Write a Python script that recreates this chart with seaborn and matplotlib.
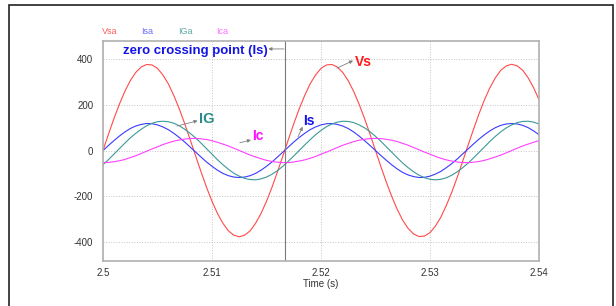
import numpy as np
import pandas as pd
import matplotlib
matplotlib.use("Agg")
import matplotlib.pyplot as plt
import matplotlib.patches as patches
import seaborn as sns

# time base, 0.5 ms steps
time = np.linspace(2.5, 2.54, 81)

# values
vsa = [0, 71, 139, 202, 258, 305, 341, 365, 376, 374, 359, 330, 291, 240, 182, 117, 47,
       -24, -94, -161, -222, -275, -318, -351, -370, -377, -370, -351, -318, -275, -222,
       -161, -94, -24, 47, 117, 182, 240, 291, 330, 359, 374, 376, 365, 341, 305, 258,
       202, 139, 71, 0, -71, -139, -202, -258, -305, -341, -365, -376, -374, -359, -330,
       -291, -240, -182, -117, -47, 24, 94, 161, 222, 275, 318, 351, 370, 377, 370, 351,
       318, 275, 222]
isa = [0, 22, 43, 63, 81, 96, 107, 114, 118, 117, 112, 103, 91, 75, 57, 37, 15,
       -7, -29, -50, -69, -86, -100, -110, -116, -118, -116, -110, -100, -86, -69,
       -50, -29, -7, 15, 37, 57, 75, 91, 103, 112, 117, 118, 114, 107, 96, 81,
       63, 43, 22, 0, -22, -43, -63, -81, -96, -107, -114, -118, -117, -112, -103,
       -91, -75, -57, -37, -15, 7, 29, 50, 69, 86, 100, 110, 116, 118, 116, 110,
       100, 86, 69]
iga = [-62, -40, -16, 8, 32, 55, 75, 93, 108, 119, 126, 128, 126, 119, 108, 93, 75,
       55, 32, 8, -16, -40, -62, -82, -99, -112, -122, -127, -128, -124, -116,
       -104, -88, -69, -47, -24, 0, 24, 47, 69, 88, 104, 116, 124, 128, 127, 122,
       112, 99, 82, 62, 40, 16, -8, -32, -55, -75, -93, -108, -119, -126, -128,
       -126, -119, -108, -93, -75, -55, -32, -8, 16, 40, 62, 82, 99, 112, 122, 127,
       128, 124, 116]
ica = [-53, -52, -49, -45, -39, -31, -23, -13, -3, 7, 16, 26, 34, 41, 46, 50, 53,
       53, 51, 48, 43, 36, 28, 20, 10, 0, -10, -20, -28, -36, -43,
       -48, -51, -53, -53, -50, -46, -41, -34, -26, -16, -7, 3, 13, 23, 31, 39,
       45, 49, 52, 53, 52, 49, 45, 39, 31, 23, 13, 3, -7, -16, -26,
       -34, -41, -46, -50, -53, -53, -51, -48, -43, -36, -28, -20, -10, 0, 10, 20,
       28, 36, 43]

series_names = ["Vsa", "Isa", "IGa", "Ica"]
series_colors = ["#ff4a4a", "#3a3aff", "#3a9a96", "#ff40ff"]
legend_colors = ["#ff6060", "#6a6aff", "#5aaaa6", "#ff70ff"]
xticks = [2.5, 2.51, 2.52, 2.53, 2.54]
xtick_labels = ["2.5", "2.51", "2.52", "2.53", "2.54"]
yticks = [-400, -200, 0, 200, 400]
zero_cross_t = 2.51667

sns.set_style("white")
plt.rcParams["font.family"] = ["Liberation Sans", "DejaVu Sans"]
plt.rcParams["axes.unicode_minus"] = False

df = pd.DataFrame({"time": time, "Vsa": vsa, "Isa": isa, "IGa": iga, "Ica": ica})

fig = plt.figure(figsize=(6.16, 3.06), dpi=100)
ax = fig.add_axes([0.1672, 0.147, 0.7078, 0.720])

for name, col in zip(series_names, series_colors):
    sns.lineplot(data=df, x="time", y=name, color=col, linewidth=0.8, ax=ax)

ax.axvline(zero_cross_t, color="#7a7a7a", linewidth=0.8)

ax.set_xlim(2.5, 2.54)
ax.set_ylim(-483, 480)
ax.set_xticks(xticks)
ax.set_xticklabels(xtick_labels)
ax.set_yticks(yticks)
ax.set_yticklabels([str(v) for v in yticks])
ax.tick_params(length=0, labelsize=7, labelcolor="#333333")
ax.tick_params(axis="y", pad=7)
ax.tick_params(axis="x", pad=5)
ax.grid(True, linestyle=":", color="#c4c4c4", linewidth=0.7)
ax.set_xlabel("Time (s)", fontsize=7, color="#333333", labelpad=1)
ax.set_ylabel("")
for s in ax.spines.values():
    s.set_color("#b0b0b0")
    s.set_linewidth(1.2)

# legend-like labels on top
for name, col, xp in zip(series_names, legend_colors, [110, 147.5, 185, 221.7]):
    fig.text(xp / 616, 1 - 31 / 306, name, color=col, fontsize=6.5, ha="center", va="center")

# annotations
arrow_kw = dict(arrowstyle="-|>", color="#808080", lw=0.6, mutation_scale=5, shrinkA=0, shrinkB=0)
ax.text(2.51510, 437, "zero crossing point (Is)", color="#1414e6", fontsize=9.5,
        fontweight="bold", ha="right", va="center")
ax.annotate("", xy=(2.51517, 444), xytext=(2.51660, 444), arrowprops=arrow_kw)

ax.text(2.52315, 387, "Vs", color="#ff1a1a", fontsize=10, fontweight="bold", ha="left", va="center")
ax.annotate("", xy=(2.52294, 393), xytext=(2.52147, 360), arrowprops=arrow_kw)

ax.text(2.50884, 138, "IG", color="#2a8a85", fontsize=10.5, fontweight="bold", ha="left", va="center")
ax.annotate("", xy=(2.50868, 130), xytext=(2.50679, 107), arrowprops=arrow_kw)

ax.text(2.51367, 65, "Ic", color="#ff10ff", fontsize=10, fontweight="bold", ha="left", va="center")
ax.annotate("", xy=(2.51358, 46), xytext=(2.51255, 34), arrowprops=arrow_kw)

ax.text(2.51838, 130, "Is", color="#1414e6", fontsize=10, fontweight="bold", ha="left", va="center")
ax.annotate("", xy=(2.51831, 104), xytext=(2.51789, 60), arrowprops=arrow_kw)

# outer frame
frame = patches.Rectangle((9 / 616, -0.05), 604 / 616, 0.05 + 1 - 5 / 306,
                          transform=fig.transFigure, fill=False, edgecolor="#222222",
                          linewidth=1.2, clip_on=False)
fig.patches.append(frame)

fig.savefig("out.png", dpi=100)
